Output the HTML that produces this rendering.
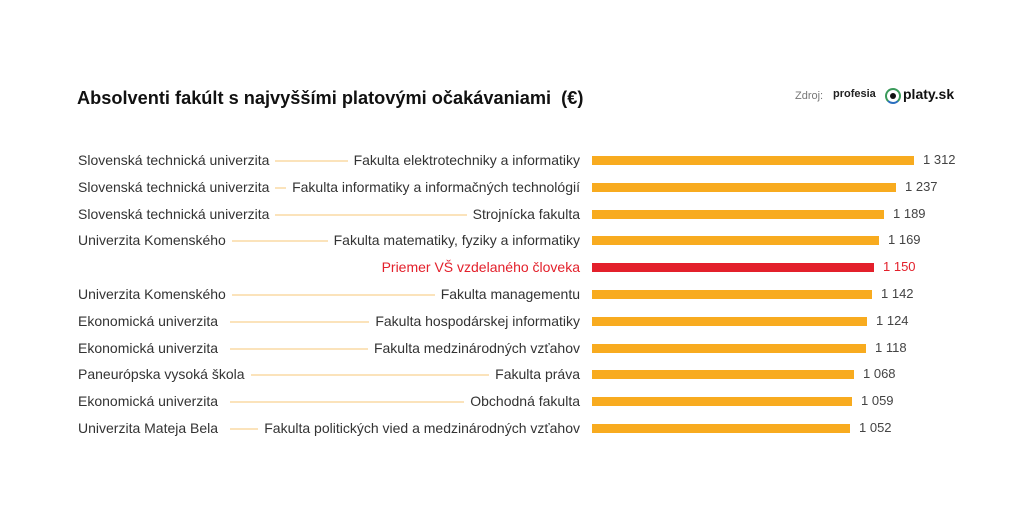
<!DOCTYPE html>
<html><head><meta charset="utf-8"><style>
body{margin:0;background:#fff;width:1024px;height:519px;position:relative;font-family:"Liberation Sans",sans-serif;overflow:hidden}
.t{position:absolute;left:77px;top:88px;font-size:18.2px;font-weight:bold;color:#111}
.r{position:absolute;left:0;width:1024px;height:20px;font-size:14px;color:#333}
.u{position:absolute;left:78px;top:1px;white-space:nowrap}
.f{position:absolute;right:444px;top:1px;white-space:nowrap;background:#fff;padding-left:6px}
.ln{position:absolute;top:9px;height:2px;background:#fbe3bb}
.b{position:absolute;left:592px;top:5px;height:9px;background:#f8ab1f}
.v{position:absolute;top:1px;white-space:nowrap;font-size:13px;color:#444}
.red{color:#e3202b!important}
</style></head><body>
<div class="t">Absolventi fakúlt s najvyššími platovými očakávaniami&nbsp; (€)</div>
<div style="position:absolute;left:795px;top:90px;font-size:11px;color:#777">Zdroj:</div>
<div style="position:absolute;left:833px;top:88px;font-size:11px;font-weight:bold;color:#222">profesia</div>
<div style="position:absolute;left:885px;top:88px;width:12px;height:12px;border:2px solid #3a9a5a;border-bottom-color:#2a6fbf;border-radius:50%"></div>
<div style="position:absolute;left:890px;top:93px;width:6px;height:6px;background:#111;border-radius:50%"></div>
<div style="position:absolute;left:903px;top:86px;font-size:14px;font-weight:bold;color:#111">platy.sk</div>
<div id="rows"></div>
<script>
var d=[["Slovenská technická univerzita","Fakulta elektrotechniky a informatiky",914,"1 312"],
["Slovenská technická univerzita","Fakulta informatiky a informačných technológií",896,"1 237"],
["Slovenská technická univerzita","Strojnícka fakulta",884,"1 189"],
["Univerzita Komenského","Fakulta matematiky, fyziky a informatiky",879,"1 169"],
["","Priemer VŠ vzdelaného človeka",874,"1 150"],
["Univerzita Komenského","Fakulta managementu",872,"1 142"],
["Ekonomická univerzita","Fakulta hospodárskej informatiky",867,"1 124"],
["Ekonomická univerzita","Fakulta medzinárodných vzťahov",866,"1 118"],
["Paneurópska vysoká škola","Fakulta práva",854,"1 068"],
["Ekonomická univerzita","Obchodná fakulta",852,"1 059"],
["Univerzita Mateja Bela","Fakulta politických vied a medzinárodných vzťahov",850,"1 052"]];
var h="";
d.forEach(function(r,i){var y=151+i*26.8;var red=!r[0];
h+='<div class="r" style="top:'+y+'px">'+(red?'':'<div class="ln" style="left:230px;width:350px"></div><div class="u" style="background:#fff;padding-right:6px">'+r[0]+'</div>')+
'<div class="f'+(red?' red':'')+'">'+r[1]+'</div><div class="b" style="width:'+(r[2]-592)+'px;'+(red?'background:#e3202b':'')+'"></div><div class="v'+(red?' red':'')+'" style="left:'+(r[2]+9)+'px">'+r[3]+'</div></div>';});
document.getElementById("rows").innerHTML=h;
</script>
</body></html>
